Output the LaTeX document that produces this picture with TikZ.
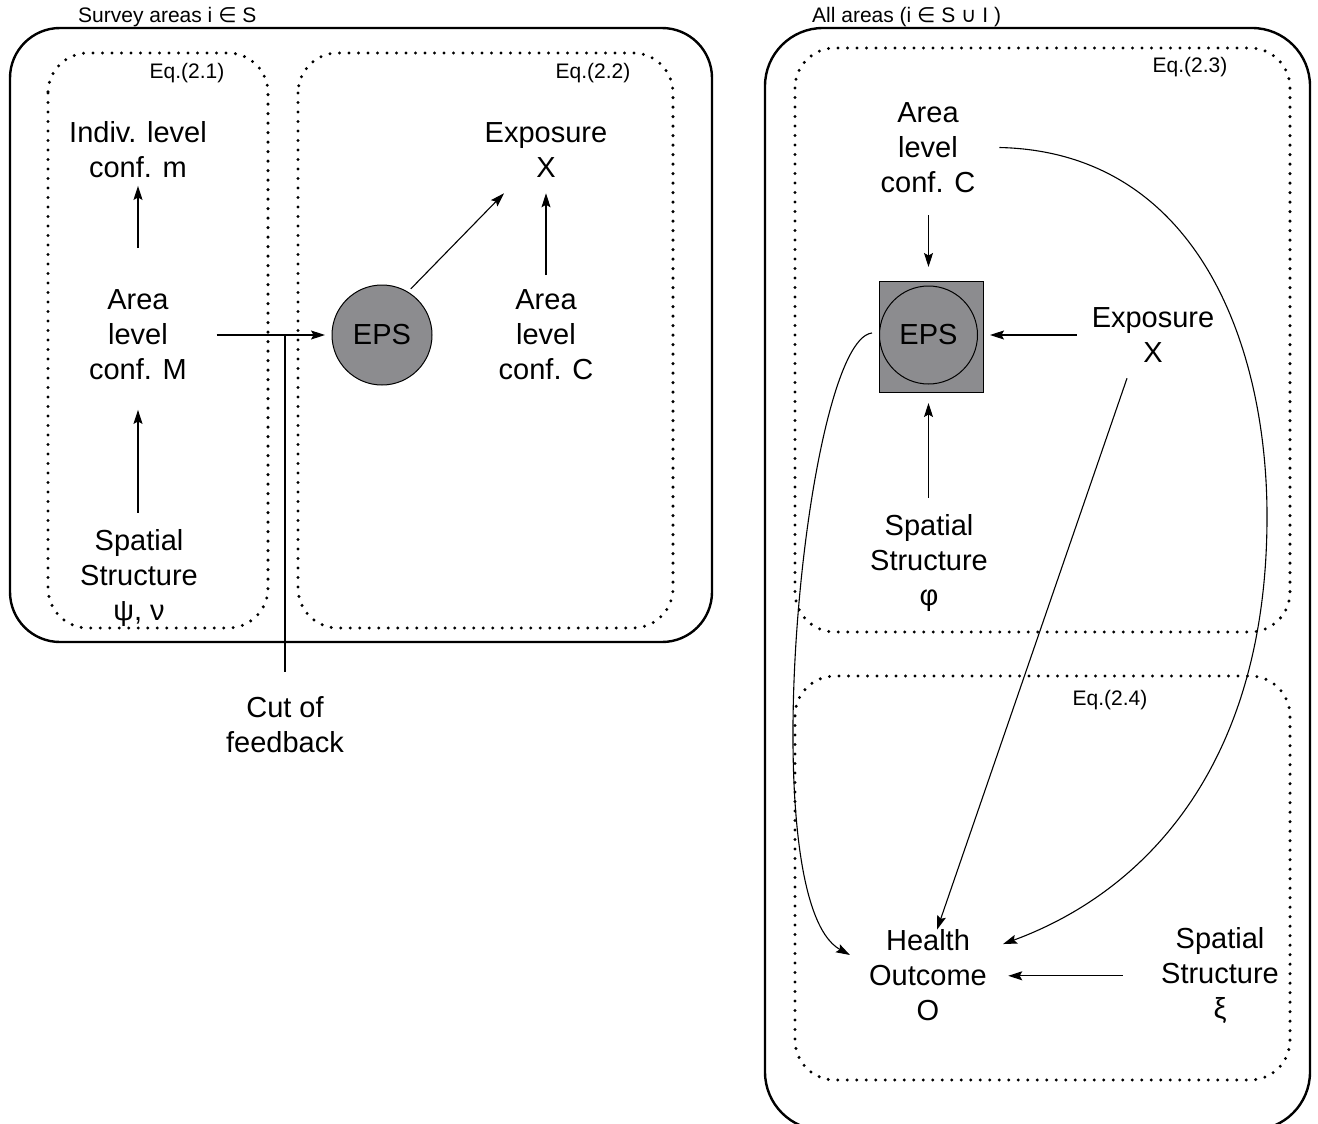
\documentclass[tikz,border=0pt]{standalone}
\usepackage{fontspec}
\setmainfont{Liberation Sans}
\newfontfamily\symf{DejaVu Sans}
\usetikzlibrary{arrows.meta}
\definecolor{epsgray}{RGB}{140,140,143}
\begin{document}
\begin{tikzpicture}[x=1pt,y=-1pt,
  lbl/.style={align=center,inner sep=0pt,font=\fontsize{29}{35}\selectfont},
  small/.style={inner sep=0pt,font=\fontsize{21}{24}\selectfont},
  outerbox/.style={line width=2.4pt,rounded corners=50pt},
  dotbox/.style={line width=3.3pt,dash pattern=on 0pt off 9.5pt,line cap=round,rounded corners=40pt},
  arr/.style={line width=1.1pt,-{Stealth[length=14pt,width=9pt,inset=2.5pt]}},
  conn/.style={line width=1.1pt},
  epscirc/.style={circle,draw,line width=1pt,inner sep=0pt,font=\fontsize{29}{35}\selectfont},
]
\useasboundingbox (0,0) rectangle (1318,1124);
\clip (0,0) rectangle (1318,1124);

% frames
\draw[outerbox] (10,28) rectangle (712,642);
\draw[outerbox,rounded corners=58pt] (765,28) rectangle (1310,1130);
\draw[dotbox] (48,53) rectangle (268,628);
\draw[dotbox] (298,53) rectangle (673,628);
\draw[dotbox] (795,48) rectangle (1290,632);
\draw[dotbox] (795,676) rectangle (1290,1080);

% small labels
\node[small,anchor=west] (tl) at (78,17) {Survey areas i {\symf ∈} S};
\node[small,anchor=west] (tr) at (812,17) {All areas (i {\symf ∈} S {\symf ∪} I )};
\node[small] (eq1) at (187,73) {Eq.(2.1)};
\node[small] (eq2) at (593,73) {Eq.(2.2)};
\node[small] (eq3) at (1190,67) {Eq.(2.3)};
\node[small] (eq4) at (1110,700) {Eq.(2.4)};

% left panel nodes
\node[lbl] (indm) at (138,150) {Indiv. level\\conf. m};
\node[lbl] (am) at (138,335) {Area\\level\\conf. M};
\node[lbl] (ssl) at (139,578) {Spatial\\Structure\\ψ, ν};
\node[epscirc,fill=epsgray,minimum size=100pt] (epsl) at (382,335) {EPS};
\node[lbl] (expl) at (546,150) {Exposure\\X};
\node[lbl] (acl) at (546,335) {Area\\level\\conf. C};
\node[lbl] (cut) at (285,725) {Cut of\\feedback};
\coordinate (cutpt) at (285,335);

% right panel nodes
\node[lbl] (acr) at (928,147.5) {Area\\level\\conf. C};
\node[draw,fill=epsgray,line width=1pt,minimum width=104pt,minimum height=111pt,inner sep=0pt] (epsr) at (931,336.5) {};
\node[epscirc,minimum size=98pt] (epsc) at (928.5,335) {EPS};
\node[lbl] (expr) at (1153,335) {Exposure\\X};
\node[lbl] (ssr) at (929,563) {Spatial\\Structure\\φ};
\node[lbl] (ho) at (928,975.5) {Health\\Outcome\\O};
\node[lbl] (ssx) at (1220,975.8) {Spatial\\Structure\\ξ};

% left connectors
\draw[arr,shorten <=41.6pt,shorten >=7.6pt] (am.north) -- (indm.south);
\draw[arr,shorten <=16.6pt,shorten >=29.6pt] (ssl.north -| am.south) -- (am.south);
\draw[arr,shorten <=29.5pt,shorten >=6.5pt] (am.east) -- (epsl.west);
\draw[conn,shorten >=24.3pt] (cutpt) -- (cut.north);
\draw[arr,shorten <=4pt] (epsl.59) -- ([xshift=-42pt,yshift=-15.6pt]expl.south);
\draw[arr,shorten <=14.6pt,shorten >=15.6pt] (acl.north) -- (expl.south);

% right connectors
\draw[arr,shorten <=22.6pt,shorten >=13.5pt] (acr.south -| epsc) -- (epsr.north -| epsc);
\draw[arr,shorten <=14.7pt,shorten >=6.5pt] (expr.west) -- (epsr.east |- expr.west);
\draw[arr,shorten <=16.6pt,shorten >=10.5pt] (ssr.north -| epsc) -- (epsr.south -| epsc);
\draw[arr,shorten <=38.2pt,shorten >=21.2pt] (ssx.west) -- (ho.east |- ssx.west);
\draw[arr] ([xshift=-26pt,yshift=-15.6pt]expr.south) -- ([xshift=9pt]ho.north);
\draw[arr] ([xshift=24pt]acr.east) .. controls (1200,152) and (1268,350) .. (1267,520)
  .. controls (1266,760) and (1150,890) .. ([xshift=16pt,yshift=-14.4pt]ho.north east);
\draw[arr] ([xshift=-6.5pt,yshift=3.5pt]epsr.west) .. controls (805,340) and (750,900) .. ([xshift=-19pt,yshift=20.5pt]ho.west);
\end{tikzpicture}
\end{document}
